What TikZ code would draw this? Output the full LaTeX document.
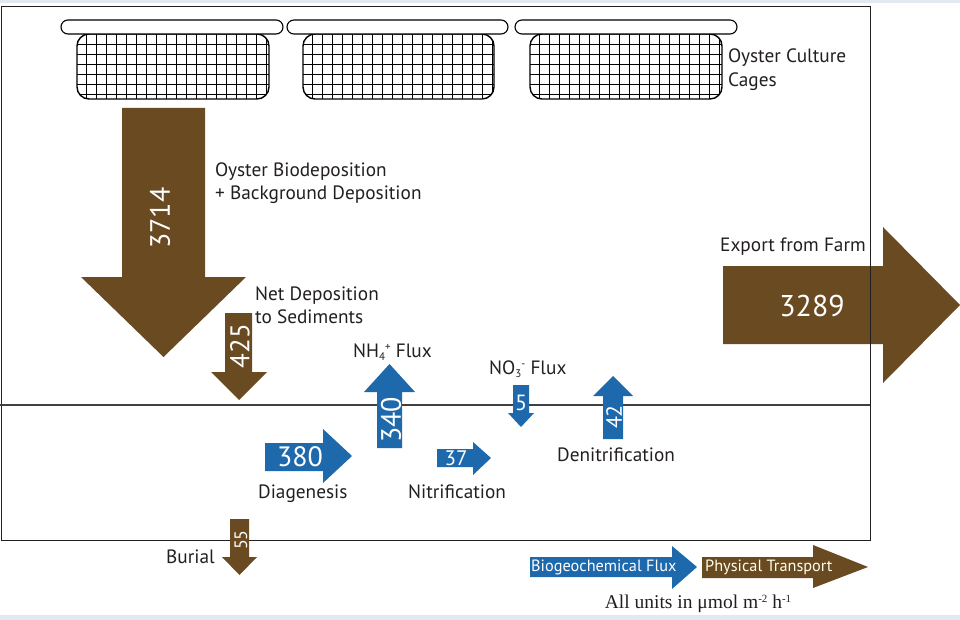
\documentclass[tikz,border=0pt]{standalone}
\usepackage{fontspec}
\setmainfont{PT Sans}
\newfontfamily\unitfont{Liberation Serif}
\definecolor{brownA}{RGB}{106,74,33}
\definecolor{blueA}{RGB}{30,104,172}
\definecolor{inkA}{RGB}{35,31,32}
\definecolor{bandA}{RGB}{226,233,241}
\newcommand{\fsz}[1]{\fontsize{#1}{#1}\selectfont}
\begin{document}
\begin{tikzpicture}[x=1pt,y=-1pt,
  brownfill/.style={fill=brownA,draw=none},
  bluefill/.style={fill=blueA,draw=none},
  numlbl/.style={text=white,inner sep=0pt},
  lbl/.style={text=inkA,font=\fsz{19.3},inner sep=0pt,anchor=west,align=left},
  floatbox/.style={draw=black,fill=white,line width=1.1pt,rounded corners=7pt},
  cagebox/.style={draw=black,line width=1.4pt,rounded corners=12pt},
  meshline/.style={line width=1pt,black}]
\useasboundingbox (0,0) rectangle (960,620);
\fill[bandA] (0,0) rectangle (960,3);
\fill[bandA] (0,615) rectangle (960,620);
% frame and sediment surface
\draw[line width=1pt,inkA] (1,7) rectangle (870,540);
\draw[line width=1.3pt,black!75] (0,405) -- (870,405);
% cages
\foreach \L/\R in {77/269,303/494,530/722}{
  \begin{scope}
    \clip[rounded corners=12pt] (\L,34) rectangle (\R,99);
    \foreach \i in {0,...,19}{\draw[meshline] ({\L+9.5+\i*10},34) -- ({\L+9.5+\i*10},99);}
    \foreach \yy in {44.5,54.5,...,94.5}{\draw[meshline] (\L,\yy) -- (\R,\yy);}
  \end{scope}
  \draw[cagebox] (\L,34) rectangle (\R,99);
}
\foreach \L/\R in {61/283,287/508,515/737}{
  \draw[floatbox] (\L,20) rectangle (\R,34);
}
\node[lbl] (cagelbl) at (728,70) {Oyster Culture\\[5pt]Cages};
% brown transport arrows
\fill[brownfill] (122,108) -- (205,108) -- (205,277) -- (246,277) -- (163.5,357) -- (81,277) -- (122,277) -- cycle;
\node[numlbl,rotate=90,font=\fsz{28}] (n3714) at (160,218) {3714};
\node[lbl] (biodep) at (215,183) {Oyster Biodeposition\\[4pt]+ Background Deposition};
\fill[brownfill] (225,313) -- (252,313) -- (252,372) -- (267,372) -- (239,400) -- (211,372) -- (225,372) -- cycle;
\node[numlbl,rotate=90,font=\fsz{27}] (n425) at (240,346) {425};
\node[lbl] (netdep) at (255,305) {Net Deposition\\[4pt]to Sediments};
\fill[brownfill] (230,519) -- (249,519) -- (249,557) -- (257,557) -- (239.5,575) -- (222,557) -- (230,557) -- cycle;
\node[numlbl,rotate=90,font=\fsz{18}] (n55) at (241,540) {55};
\node[lbl,anchor=east] (burial) at (215,557) {Burial};
\fill[brownfill] (723,266) -- (883,266) -- (883,227) -- (960,305) -- (883,383) -- (883,344) -- (723,344) -- cycle;
\draw[line width=1pt,inkA] (870,7) -- (870,540);
\node[numlbl,font=\fsz{30}] (n3289) at (812,306) {3289};
\node[lbl] (export) at (720,247) {Export from Farm};
% blue biogeochemical arrows
\fill[bluefill] (377,448) -- (402,448) -- (402,392) -- (415,392) -- (389.5,364) -- (364,392) -- (377,392) -- cycle;
\node[numlbl,rotate=90,font=\fsz{28}] (n340) at (391,420) {340};
\node[lbl] (nh4) at (353,352) {NH\raisebox{-0.35ex}{\fsz{11}4}\raisebox{0.65ex}{\fsz{11}+} Flux};
\fill[bluefill] (513,385) -- (529,385) -- (529,413) -- (534,413) -- (521,427) -- (508,413) -- (513,413) -- cycle;
\node[numlbl,font=\fsz{22}] (n5) at (521,403) {5};
\node[lbl] (no3) at (489,369) {NO\raisebox{-0.35ex}{\fsz{11}3}\raisebox{0.65ex}{\fsz{11}-} Flux};
\fill[bluefill] (603,439) -- (623,439) -- (623,396) -- (633,396) -- (613,376) -- (593,396) -- (603,396) -- cycle;
\node[numlbl,rotate=90,font=\fsz{22}] (n42) at (614,417) {42};
\node[lbl] (denit) at (557,455) {Denitrification};
\fill[bluefill] (437,449) -- (473,449) -- (473,442) -- (491,458) -- (473,475) -- (473,467) -- (437,467) -- cycle;
\node[numlbl,font=\fsz{21}] (n37) at (456,458) {37};
\node[lbl] (nitr) at (408,492) {Nitrification};
\fill[bluefill] (265,443) -- (323,443) -- (323,429) -- (352,456) -- (323,483) -- (323,471) -- (265,471) -- cycle;
\node[numlbl,font=\fsz{28}] (n380) at (300,457) {380};
\node[lbl] (diag) at (258,494) {Diagenesis};
% legend
\fill[bluefill] (530,557) -- (672,557) -- (672,546) -- (697,567) -- (672,589) -- (672,577) -- (530,577) -- cycle;
\node[numlbl,anchor=west,font=\fsz{16.3}] (legblue) at (531,567) {Biogeochemical Flux};
\fill[brownfill] (702,557) -- (813,557) -- (813,545) -- (868,567) -- (813,588) -- (813,578) -- (702,578) -- cycle;
\node[numlbl,anchor=west,font=\fsz{16.3},text=white!92!yellow] (legbrown) at (705,567) {Physical Transport};
\node[inner sep=0pt,font=\unitfont\fsz{19.5},text=inkA] (units) at (698,604) {All units in μmol m\raisebox{0.7ex}{\fsz{11}-2} h\raisebox{0.7ex}{\fsz{11}-1}};
\end{tikzpicture}
\end{document}
